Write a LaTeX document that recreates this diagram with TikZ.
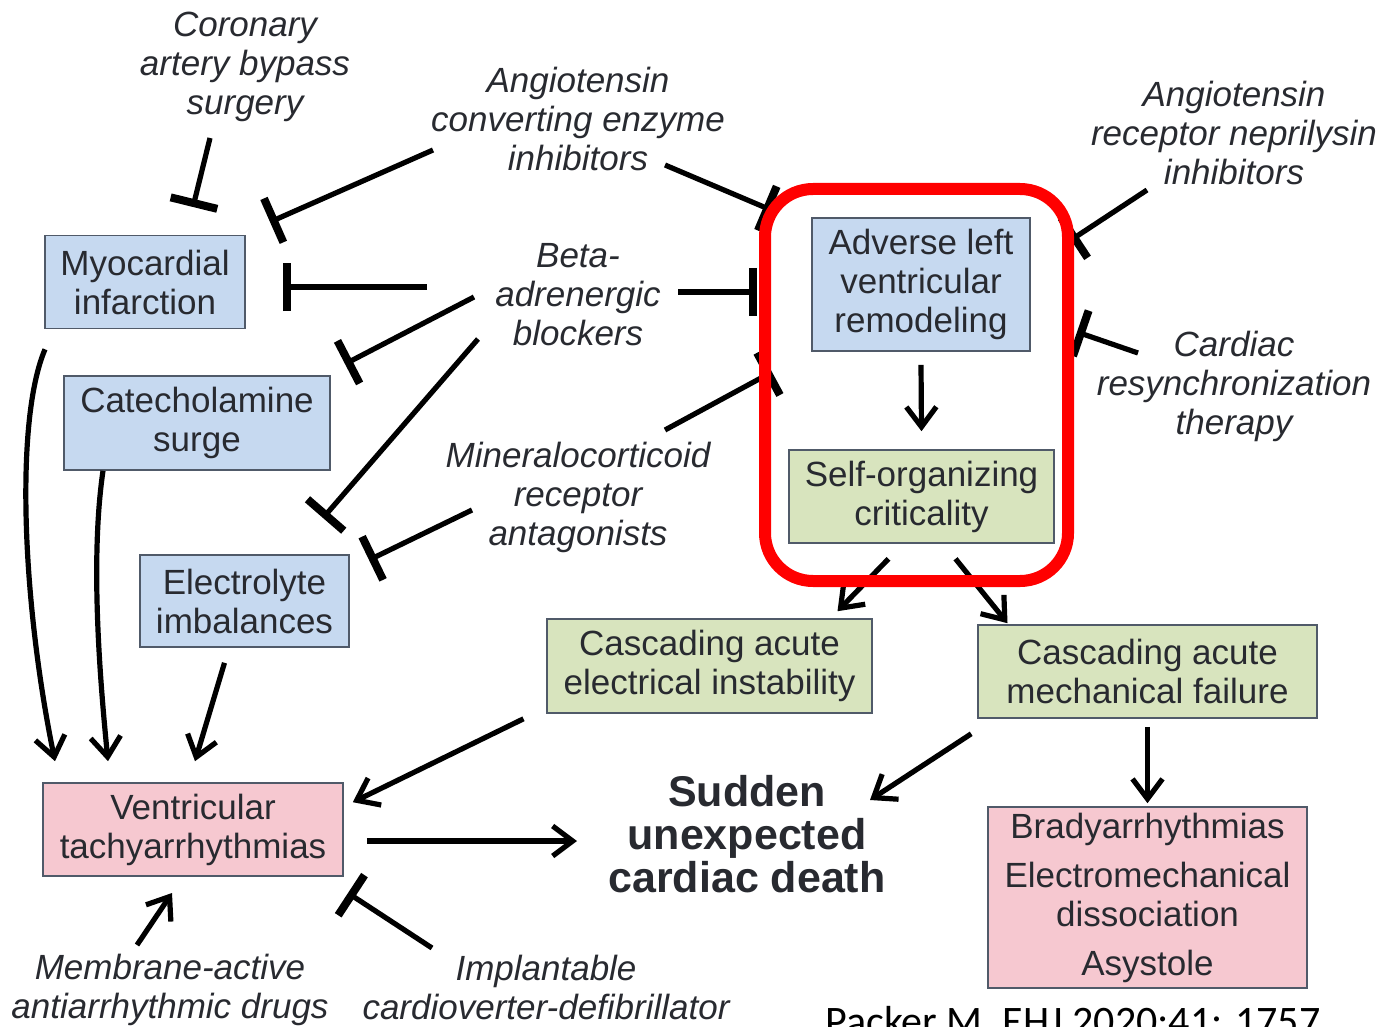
\documentclass[tikz,border=0pt]{standalone}
\usepackage{fontspec}
\setmainfont{Liberation Sans}
\newfontfamily\citefont{Carlito}
\usetikzlibrary{arrows.meta,positioning}

\definecolor{causeblue}{RGB}{198,217,240}
\definecolor{critgreen}{RGB}{216,228,190}
\definecolor{arrhpink}{RGB}{246,200,208}
\definecolor{boxline}{RGB}{80,90,105}
\definecolor{txtgray}{RGB}{40,42,48}

\begin{document}
\begin{tikzpicture}[
    x=0.5pt, y=-0.5pt,
    box/.style={draw=boxline, line width=0.8pt, align=center, inner sep=1pt, text=txtgray, font=\fontsize{17.5pt}{19.5pt}\selectfont},
    cause/.style={box, fill=causeblue},
    crit/.style={box, fill=critgreen},
    arrh/.style={box, fill=arrhpink},
    therapy/.style={align=center, inner sep=0pt, text=txtgray, font=\fontsize{17.5pt}{19.5pt}\selectfont\itshape},
    leads/.style={-{Straight Barb[length=10pt,width=15pt]}, line width=2.6pt},
    blocks/.style={-{Bar[width=24pt,line width=4pt]}, line width=2.6pt},
    redframe/.style={draw=red, line width=6pt, rounded corners=24pt},
]
\useasboundingbox (0,0) rectangle (1384,1026);

% boxes
\node[cause, minimum width=100pt, minimum height=46.5pt] (mi) at (145,282) {Myocardial\\infarction};
\node[cause, minimum width=133pt, minimum height=47pt] (cat) at (197,423) {Catecholamine\\surge};
\node[cause, minimum width=104.5pt, minimum height=46pt] (ely) at (244.5,601) {Electrolyte\\imbalances};
\node[cause, minimum width=109pt, minimum height=66.5pt] (alv) at (921,284.5) {Adverse left\\ventricular\\remodeling};
\node[crit, minimum width=132.5pt, minimum height=46.5pt] (soc) at (921.5,496.5) {Self-organizing\\criticality};
\node[crit, minimum width=162.5pt, minimum height=47pt] (eli) at (709.5,666) {Cascading acute\\electrical instability};
\node[crit, minimum width=169.5pt, minimum height=46.5pt] (mech) at (1147.5,671.5) {Cascading acute\\mechanical failure};
\node[arrh, minimum width=150pt, minimum height=46.5pt] (vt) at (193,829.5) {Ventricular\\tachyarrhythmias};
\node[arrh, minimum width=159.5pt, minimum height=90.5pt] (brady) at (1147.5,897.5) {Bradyarrhythmias\\[5pt]Electromechanical\\dissociation\\[5pt]Asystole};
\node[align=center, text=txtgray, font=\fontsize{21.5pt}{21.5pt}\selectfont\bfseries] (sucd) at (747,834) {Sudden\\unexpected\\cardiac death};

% therapies
\node[therapy] (cabg) at (245,67) {Coronary\\artery bypass\\surgery};
\node[therapy] (ace) at (578,119) {Angiotensin\\converting enzyme\\inhibitors};
\node[therapy] (arni) at (1234,133) {Angiotensin\\receptor neprilysin\\inhibitors};
\node[therapy] (beta) at (578,295) {Beta-\\adrenergic\\blockers};
\node[therapy] (crt) at (1234,386) {Cardiac\\resynchronization\\therapy};
\node[therapy] (mra) at (578,497) {Mineralocorticoid\\receptor\\antagonists};
\node[therapy] (mem) at (170,990) {Membrane-active\\antiarrhythmic drugs};
\node[therapy] (icd) at (546,987) {Implantable\\cardioverter-defibrillator};
\node[anchor=base west, inner sep=0pt, font=\citefont\fontsize{21pt}{24pt}\selectfont] (cite) at (825,1035) {Packer M. EHJ 2020;41: 1757};

% connector ends
\coordinate (cabg-o) at (210,138); \coordinate (cabg-mi) at (193,207);
\coordinate (ace-o) at (433,150);  \coordinate (ace-mi) at (270,222);
\coordinate (ace-o2) at (665,165); \coordinate (ace-alv) at (771,210);
\coordinate (beta-o) at (427,287); \coordinate (beta-mi) at (283,287);
\coordinate (beta-o2) at (474,297); \coordinate (beta-cat) at (345,364);
\coordinate (beta-o3) at (478,339); \coordinate (beta-ely) at (323,518);
\coordinate (beta-o4) at (678,292); \coordinate (beta-alv) at (757,292);
\coordinate (mra-o) at (472,510);  \coordinate (mra-ely) at (369,560);
\coordinate (mra-o2) at (665,430); \coordinate (mra-alv) at (772,372);
\coordinate (arni-o) at (1147,190); \coordinate (arni-alv) at (1071,240);
\coordinate (crt-o) at (1138,353); \coordinate (crt-alv) at (1077,332);
\coordinate (icd-o) at (432,948);  \coordinate (icd-vt) at (348,893);
\coordinate (mem-o) at (137,945);  \coordinate (mem-vt) at (172,893);
\coordinate (sucd-in) at (577,841); \coordinate (sucd-in2) at (870,800);

% inhibition
\draw[blocks] (cabg-o) -- (cabg-mi);
\draw[blocks] (ace-o) -- (ace-mi);
\draw[blocks] (ace-o2) -- (ace-alv);
\draw[blocks] (beta-o) -- (beta-mi);
\draw[blocks] (beta-o2) -- (beta-cat);
\draw[blocks] (beta-o3) -- (beta-ely);
\draw[blocks] (beta-o4) -- (beta-alv);
\draw[blocks] (mra-o) -- (mra-ely);
\draw[blocks] (mra-o2) -- (mra-alv);
\draw[blocks] (arni-o) -- (arni-alv);
\draw[blocks] (crt-o) -- (crt-alv);
\draw[blocks] (icd-o) -- (icd-vt);

% causal flow
\draw[leads] ([xshift=-50pt,yshift=-10pt]mi.south) .. controls (15,420) and (22,600) .. ([xshift=-69pt,yshift=10.5pt]vt.north);
\draw[leads] ([xshift=-47pt]cat.south) .. controls (90,560) and (100,680) .. ([xshift=-42.5pt,yshift=10.5pt]vt.north);
\draw[leads] ([xshift=-10pt,yshift=-7.5pt]ely.south) -- ([xshift=1pt,yshift=10.5pt]vt.north);
\draw[leads] (mem-o) -- (mem-vt);
\draw[leads] ([xshift=-93pt,yshift=-2.5pt]eli.south) -- ([xshift=4.5pt,yshift=-10pt]vt.north east);
\draw[leads] ([xshift=11.5pt,yshift=-5.75pt]vt.east) -- (sucd-in);
\draw[leads] ([xshift=-3pt,yshift=-7.5pt]mech.south west) -- (sucd-in2);
\draw[leads] ([xshift=-16.5pt,yshift=-7.5pt]soc.south) -- ([xshift=64pt,yshift=3.5pt]eli.north);
\draw[leads] ([xshift=17pt,yshift=-7.5pt]soc.south) -- ([xshift=-70pt,yshift=0.5pt]mech.north);
\draw[leads] ([yshift=-6.5pt]alv.south) -- ([yshift=9pt]soc.north);
\draw[leads] ([yshift=-4pt]mech.south) -- ([yshift=1.5pt]brady.north);

% highlight
\draw[redframe] (765,189) rectangle (1068,581);
\end{tikzpicture}
\end{document}
